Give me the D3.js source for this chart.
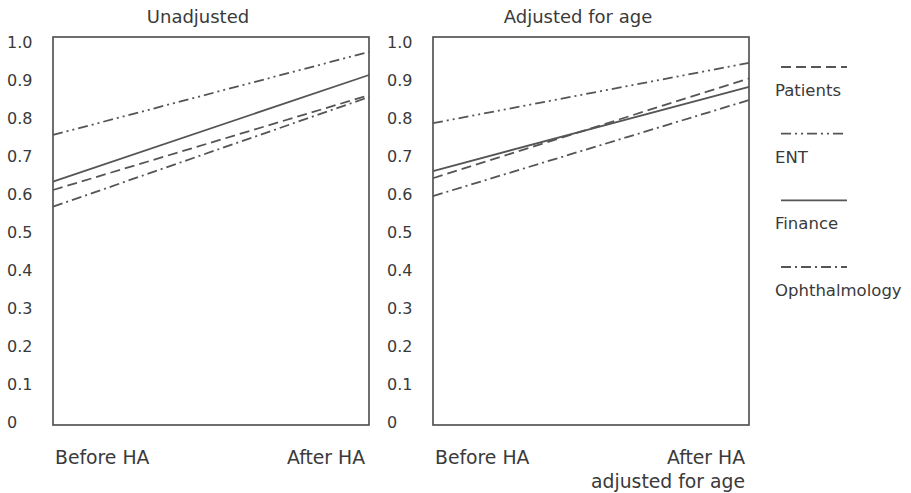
<!DOCTYPE html>
<html>
<head>
<meta charset="utf-8">
<script src="https://cdn.jsdelivr.net/npm/d3@7"></script>
<style>
  body { margin: 0; background: #fff; }
  text { font-family: "DejaVu Sans", sans-serif; fill: #3a3a3a; }
</style>
</head>
<body>
<div id="chart"></div>
<script>
// values, series order: Patients, ENT, Finance, Ophthalmology
const seriesNames = ["Patients", "ENT", "Finance", "Ophthalmology"];
const seriesDash = ["10,5", "10,4,2,4,2,4", null, "10,4,2,4"];

const panelTitles = ["Unadjusted", "Adjusted for age"];
const unadjCategories = ["Before HA", "After HA"];
const adjCategories = ["Before HA", "After HA adjusted for age"];

const unadjBefore = [0.61, 0.755, 0.632, 0.566];
const unadjAfter = [0.86, 0.974, 0.913, 0.855];
const adjBefore = [0.641, 0.786, 0.66, 0.594];
const adjAfter = [0.904, 0.945, 0.882, 0.847];

const yTicks = [0, 0.1, 0.2, 0.3, 0.4, 0.5, 0.6, 0.7, 0.8, 0.9, 1.0];
const yTickLabels = ["0", "0.1", "0.2", "0.3", "0.4", "0.5", "0.6", "0.7", "0.8", "0.9", "1.0"];

(function () {
  const W = 911, H = 493;
  const boxTop = 37, boxBottom = 425, boxW = 316;
  const lineColor = "#555";

  const svg = d3.select("#chart").append("svg")
    .attr("width", W).attr("height", H);

  const y = d3.scaleLinear().domain([0, 1]).range([421.5, 42]);

  function panel(left, title, cats, before, after) {
    const g = svg.append("g").attr("transform", `translate(${left},0)`);
    const x = d3.scalePoint().domain(cats).range([0, boxW]).padding(0);

    g.append("text")
      .attr("x", boxW / 2 - 13)
      .attr("y", 23)
      .attr("text-anchor", "middle")
      .attr("font-size", "18px")
      .text(title);

    // y labels, no tick marks
    const yAxis = g.append("g")
      .call(d3.axisLeft(y).tickValues(yTicks).tickSize(0)
        .tickFormat((d, i) => yTickLabels[i]));
    yAxis.select(".domain").remove();
    yAxis.selectAll("text")
      .attr("x", -46)
      .attr("dy", "0.35em")
      .attr("text-anchor", "start")
      .attr("font-size", "16px")
      .attr("font-family", null)
      .attr("fill", "#3a3a3a");

    g.append("rect")
      .attr("x", 0).attr("y", boxTop)
      .attr("width", boxW).attr("height", boxBottom - boxTop)
      .attr("fill", "none")
      .attr("stroke", "#4a4a4a")
      .attr("stroke-width", 1.6);

    const line = d3.line().x(d => x(d.cat)).y(d => y(d.v));
    seriesNames.forEach((name, i) => {
      const pts = [{ cat: cats[0], v: before[i] }, { cat: cats[1], v: after[i] }];
      g.append("path")
        .datum(pts)
        .attr("d", line)
        .attr("fill", "none")
        .attr("stroke", lineColor)
        .attr("stroke-width", 1.8)
        .attr("stroke-dasharray", seriesDash[i]);
    });

    // category labels under the box
    g.append("text")
      .attr("x", x(cats[0]) + 2)
      .attr("y", 464)
      .attr("font-size", "18.8px")
      .text(cats[0]);
    const words = cats[1] === "After HA" ? ["After HA"] : ["After HA", "adjusted for age"];
    const lab = g.append("text")
      .attr("y", 464)
      .attr("text-anchor", "end")
      .attr("font-size", "18.8px");
    words.forEach((w, j) => {
      lab.append("tspan").attr("x", x(cats[1]) - 4).attr("dy", j ? 24 : 0).text(w);
    });
  }

  panel(53, panelTitles[0], unadjCategories, unadjBefore, unadjAfter);
  panel(433, panelTitles[1], adjCategories, adjBefore, adjAfter);

  // legend: sample line above each name
  const legend = svg.append("g").attr("transform", "translate(775,0)");
  const legendY = d3.scalePoint().domain(seriesNames).range([67, 267]);
  seriesNames.forEach((name, i) => {
    legend.append("line")
      .attr("x1", 6).attr("x2", 72)
      .attr("y1", legendY(name)).attr("y2", legendY(name))
      .attr("stroke", lineColor)
      .attr("stroke-width", 1.8)
      .attr("stroke-dasharray", seriesDash[i]);
    legend.append("text")
      .attr("x", 0)
      .attr("y", legendY(name) + 29)
      .attr("font-size", "16.5px")
      .text(name);
  });
})();
</script>
</body>
</html>
